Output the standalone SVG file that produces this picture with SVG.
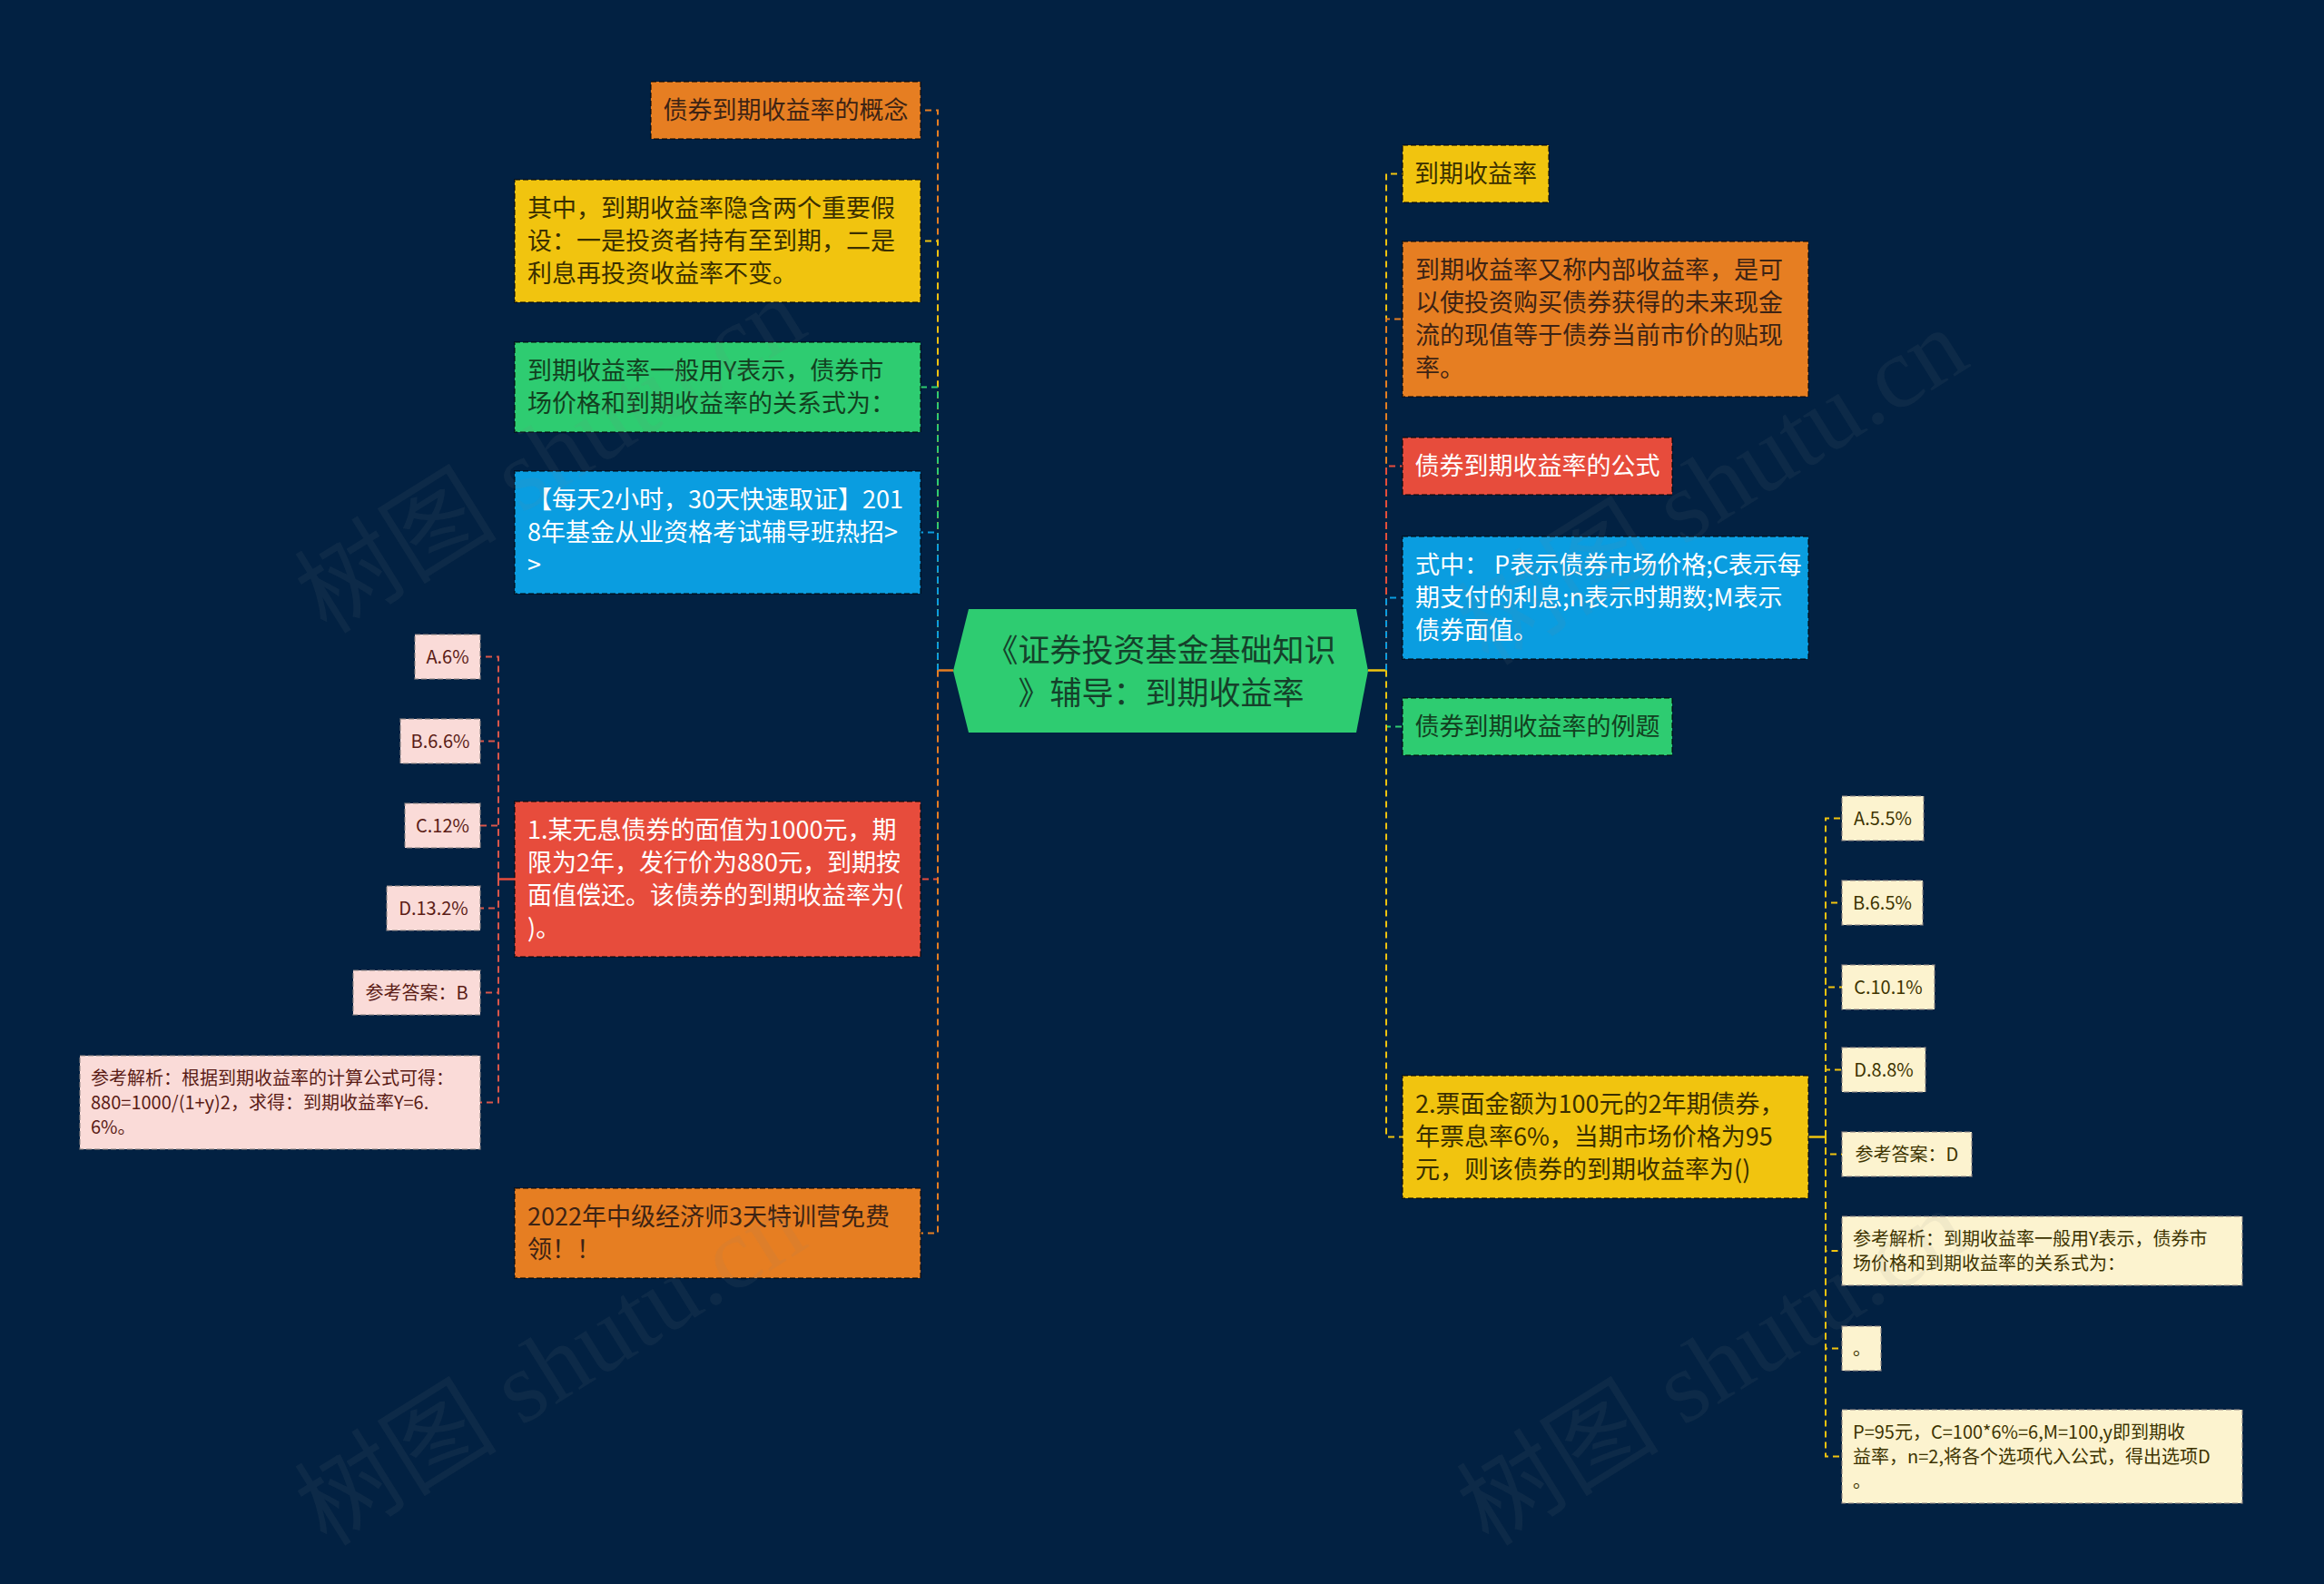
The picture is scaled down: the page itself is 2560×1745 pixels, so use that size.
<svg xmlns="http://www.w3.org/2000/svg" width="2560" height="1745" viewBox="0 0 2560 1745">
<style>
text{font-family:"Noto Sans CJK SC","Noto Sans",sans-serif;}
.t27{font-size:27px;}
.t20{font-size:20px;}
.nb{stroke:#000;stroke-opacity:.5;stroke-width:2;stroke-dasharray:6 3;}
.sb{stroke:#8f8583;stroke-opacity:.7;stroke-width:1.5;stroke-dasharray:6 3;}
.c{fill:none;stroke-width:2;stroke-dasharray:7 5;}
.s{fill:none;stroke-width:2.5;}
.or{fill:#e67e22}.ye{fill:#f1c40f}.gr{fill:#2ecc71}.re{fill:#e74c3c}.bl{fill:#0a9de0}.pk{fill:#fadbd8}.ly{fill:#fcf3cf}
.tor{fill:#3d2314}.tye{fill:#3a2f00}.tgr{fill:#12401f}.tw{fill:#ffffff}.tpk{fill:#5a1c16}.tly{fill:#3d3300}
.wm{font-family:"Liberation Serif","Noto Sans CJK SC",serif;font-size:112px;fill:#8a8a8a;fill-opacity:.09;}
</style>
<rect x="0" y="0" width="2560" height="1745" fill="#022142"/>

<g id="connectors">
  <line class="s" x1="1050" y1="738.5" x2="1033" y2="738.5" stroke="#e67e22"/>
  <path class="c" d="M1033,738.5 V121.5 H1014" stroke="#e67e22"/>
  <path class="c" d="M1033,738.5 V265.5 H1014" stroke="#f1c40f"/>
  <path class="c" d="M1033,738.5 V426.5 H1014" stroke="#2ecc71"/>
  <path class="c" d="M1033,738.5 V586.5 H1014" stroke="#0a9de0"/>
  <path class="c" d="M1033,738.5 V968.5 H1014" stroke="#e74c3c"/>
  <path class="c" d="M1033,738.5 V1358.5 H1014" stroke="#e67e22"/>

  <line class="s" x1="1507" y1="738.5" x2="1527" y2="738.5" stroke="#f1c40f"/>
  <path class="c" d="M1527,738.5 V191.5 H1545" stroke="#f1c40f"/>
  <path class="c" d="M1527,738.5 V351.5 H1545" stroke="#e67e22"/>
  <path class="c" d="M1527,738.5 V513.5 H1545" stroke="#e74c3c"/>
  <path class="c" d="M1527,738.5 V658.5 H1545" stroke="#0a9de0"/>
  <path class="c" d="M1527,738.5 V800.5 H1545" stroke="#2ecc71"/>
  <path class="c" d="M1527,738.5 V1252.5 H1545" stroke="#f1c40f"/>

  <line class="s" x1="567" y1="968.5" x2="549" y2="968.5" stroke="#e74c3c"/>
  <path class="c" d="M549,968.5 V723.5 H529" stroke="#d9564a"/>
  <path class="c" d="M549,968.5 V816.5 H529" stroke="#d9564a"/>
  <path class="c" d="M549,968.5 V909.5 H529" stroke="#d9564a"/>
  <path class="c" d="M549,968.5 V1000.5 H529" stroke="#d9564a"/>
  <path class="c" d="M549,968.5 V1093.5 H529" stroke="#d9564a"/>
  <path class="c" d="M549,968.5 V1214.5 H529" stroke="#d9564a"/>

  <line class="s" x1="1992" y1="1252.5" x2="2011" y2="1252.5" stroke="#f1c40f"/>
  <path class="c" d="M2011,1252.5 V901.5 H2029" stroke="#f1c40f"/>
  <path class="c" d="M2011,1252.5 V994.5 H2029" stroke="#f1c40f"/>
  <path class="c" d="M2011,1252.5 V1087.5 H2029" stroke="#f1c40f"/>
  <path class="c" d="M2011,1252.5 V1178.5 H2029" stroke="#f1c40f"/>
  <path class="c" d="M2011,1252.5 V1271.5 H2029" stroke="#f1c40f"/>
  <path class="c" d="M2011,1252.5 V1378 H2029" stroke="#f1c40f"/>
  <path class="c" d="M2011,1252.5 V1485.5 H2029" stroke="#f1c40f"/>
  <path class="c" d="M2011,1252.5 V1604.5 H2029" stroke="#f1c40f"/>
</g>

<g id="center">
  <polygon points="1050,739 1067,671 1494,671 1507,739 1494,807 1067,807" fill="#2ecc71"/>
  <text x="1279" y="729" text-anchor="middle" style="font-size:35px" fill="#15402a">《证券投资基金基础知识</text>
  <text x="1279" y="776" text-anchor="middle" style="font-size:35px" fill="#15402a">》辅导：到期收益率</text>
</g>

<g id="L1"><rect class="or nb" x="717" y="90" width="297" height="63"/>
  <text class="t27 tor" x="865.5" y="131" text-anchor="middle">债券到期收益率的概念</text></g>
<g id="L2"><rect class="ye nb" x="567" y="198" width="447" height="135"/>
  <text class="t27 tye" x="581" y="239"><tspan x="581">其中，到期收益率隐含两个重要假</tspan><tspan x="581" dy="36">设：一是投资者持有至到期，二是</tspan><tspan x="581" dy="36">利息再投资收益率不变。</tspan></text></g>
<g id="L3"><rect class="gr nb" x="567" y="377" width="447" height="99"/>
  <text class="t27 tgr" x="581" y="418"><tspan x="581">到期收益率一般用Y表示，债券市</tspan><tspan x="581" dy="36">场价格和到期收益率的关系式为：</tspan></text></g>
<g id="L4"><rect class="bl nb" x="567" y="519" width="447" height="135"/>
  <text class="t27 tw" x="581" y="560"><tspan x="581">【每天2小时，30天快速取证】201</tspan><tspan x="581" dy="36">8年基金从业资格考试辅导班热招&gt;</tspan><tspan x="581" dy="36">&gt;</tspan></text></g>
<g id="L5"><rect class="re nb" x="567" y="883" width="447" height="171"/>
  <text class="t27 tw" x="581" y="924"><tspan x="581">1.某无息债券的面值为1000元，期</tspan><tspan x="581" dy="36">限为2年，发行价为880元，到期按</tspan><tspan x="581" dy="36">面值偿还。该债券的到期收益率为(</tspan><tspan x="581" dy="36">)。</tspan></text></g>
<g id="L6"><rect class="or nb" x="567" y="1309" width="447" height="99"/>
  <text class="t27 tor" x="581" y="1350"><tspan x="581">2022年中级经济师3天特训营免费</tspan><tspan x="581" dy="36">领！！</tspan></text></g>

<g id="R1"><rect class="ye nb" x="1545" y="160" width="161" height="63"/>
  <text class="t27 tye" x="1625.5" y="201" text-anchor="middle">到期收益率</text></g>
<g id="R2"><rect class="or nb" x="1545" y="266" width="447" height="171"/>
  <text class="t27 tor" x="1559" y="307"><tspan x="1559">到期收益率又称内部收益率，是可</tspan><tspan x="1559" dy="36">以使投资购买债券获得的未来现金</tspan><tspan x="1559" dy="36">流的现值等于债券当前市价的贴现</tspan><tspan x="1559" dy="36">率。</tspan></text></g>
<g id="R3"><rect class="re nb" x="1545" y="482" width="297" height="63"/>
  <text class="t27 tw" x="1693.5" y="523" text-anchor="middle">债券到期收益率的公式</text></g>
<g id="R4"><rect class="bl nb" x="1545" y="591" width="447" height="135"/>
  <text class="t27 tw" x="1559" y="632"><tspan x="1559">式中： P表示债券市场价格;C表示每</tspan><tspan x="1559" dy="36">期支付的利息;n表示时期数;M表示</tspan><tspan x="1559" dy="36">债券面值。</tspan></text></g>
<g id="R5"><rect class="gr nb" x="1545" y="769" width="297" height="63"/>
  <text class="t27 tgr" x="1693.5" y="810" text-anchor="middle">债券到期收益率的例题</text></g>
<g id="R6"><rect class="ye nb" x="1545" y="1185" width="447" height="135"/>
  <text class="t27 tye" x="1559" y="1226"><tspan x="1559">2.票面金额为100元的2年期债券，</tspan><tspan x="1559" dy="36">年票息率6%，当期市场价格为95</tspan><tspan x="1559" dy="36">元，则该债券的到期收益率为()</tspan></text></g>

<g id="G1"><rect class="pk sb" x="457" y="699" width="72" height="49"/><text class="t20 tpk" x="493" y="731" text-anchor="middle">A.6%</text></g>
<g id="G2"><rect class="pk sb" x="441" y="792" width="88" height="49"/><text class="t20 tpk" x="485" y="824" text-anchor="middle">B.6.6%</text></g>
<g id="G3"><rect class="pk sb" x="446" y="885" width="83" height="49"/><text class="t20 tpk" x="487.5" y="917" text-anchor="middle">C.12%</text></g>
<g id="G4"><rect class="pk sb" x="426" y="976" width="103" height="49"/><text class="t20 tpk" x="477.5" y="1008" text-anchor="middle">D.13.2%</text></g>
<g id="G5"><rect class="pk sb" x="389" y="1069" width="140" height="49"/><text class="t20 tpk" x="459" y="1101" text-anchor="middle">参考答案：B</text></g>
<g id="G6"><rect class="pk sb" x="88" y="1163" width="441" height="103"/>
  <text class="t20 tpk" x="100" y="1195"><tspan x="100">参考解析：根据到期收益率的计算公式可得：</tspan><tspan x="100" dy="27">880=1000/(1+y)2，求得：到期收益率Y=6.</tspan><tspan x="100" dy="27">6%。</tspan></text></g>

<g id="H1"><rect class="ly sb" x="2029" y="877" width="90" height="49"/><text class="t20 tly" x="2074" y="909" text-anchor="middle">A.5.5%</text></g>
<g id="H2"><rect class="ly sb" x="2029" y="970" width="89" height="49"/><text class="t20 tly" x="2073.5" y="1002" text-anchor="middle">B.6.5%</text></g>
<g id="H3"><rect class="ly sb" x="2029" y="1063" width="102" height="49"/><text class="t20 tly" x="2080" y="1095" text-anchor="middle">C.10.1%</text></g>
<g id="H4"><rect class="ly sb" x="2029" y="1154" width="92" height="49"/><text class="t20 tly" x="2075" y="1186" text-anchor="middle">D.8.8%</text></g>
<g id="H5"><rect class="ly sb" x="2029" y="1247" width="143" height="49"/><text class="t20 tly" x="2100.5" y="1279" text-anchor="middle">参考答案：D</text></g>
<g id="H6"><rect class="ly sb" x="2029" y="1340" width="441" height="76"/>
  <text class="t20 tly" x="2041" y="1372"><tspan x="2041">参考解析：到期收益率一般用Y表示，债券市</tspan><tspan x="2041" dy="27">场价格和到期收益率的关系式为：</tspan></text></g>
<g id="H7"><rect class="ly sb" x="2029" y="1461" width="43" height="49"/><text class="t20 tly" x="2041" y="1493">。</text></g>
<g id="H8"><rect class="ly sb" x="2029" y="1553" width="441" height="103"/>
  <text class="t20 tly" x="2041" y="1585"><tspan x="2041">P=95元，C=100*6%=6,M=100,y即到期收</tspan><tspan x="2041" dy="27">益率，n=2,将各个选项代入公式，得出选项D</tspan><tspan x="2041" dy="27">。</tspan></text></g>

<g id="watermark">
  <text class="wm" transform="translate(360,700) rotate(-32)">树图 shutu.cn</text>
  <text class="wm" transform="translate(1640,735) rotate(-32)">树图 shutu.cn</text>
  <text class="wm" transform="translate(360,1705) rotate(-32)">树图 shutu.cn</text>
  <text class="wm" transform="translate(1640,1705) rotate(-32)">树图 shutu.cn</text>
</g>
</svg>
